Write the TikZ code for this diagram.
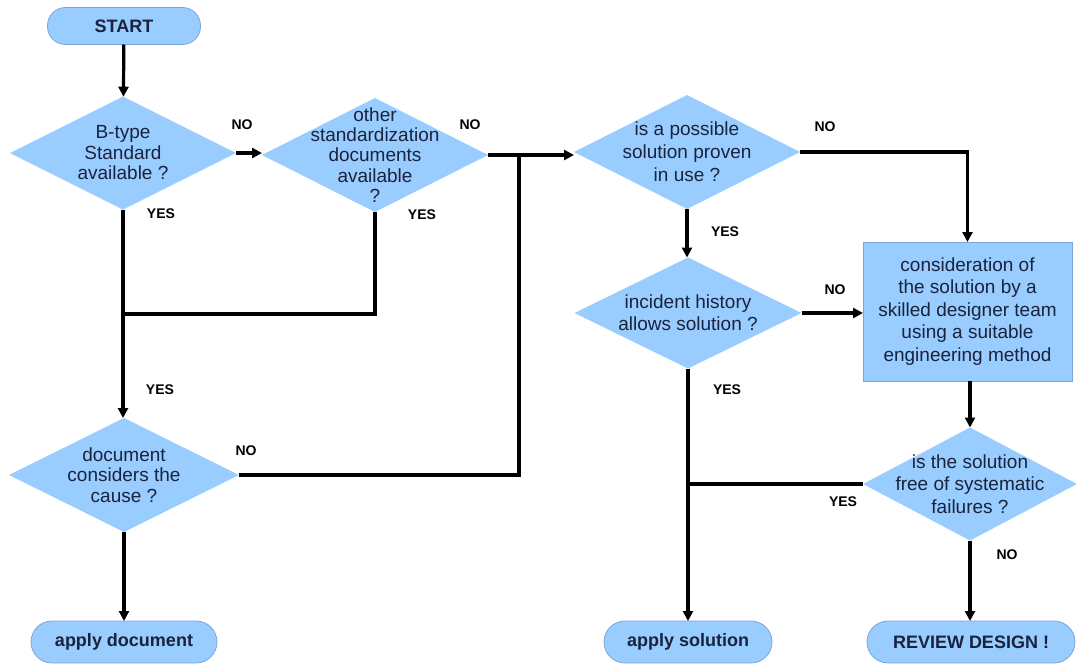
\documentclass[tikz,border=0pt]{standalone}
\usepackage{fontspec}
\setmainfont{Liberation Sans}
\usetikzlibrary{shapes.geometric,arrows.meta}
\definecolor{flowfill}{RGB}{153,204,255}
\definecolor{flowedge}{RGB}{125,165,215}
\definecolor{flowtext}{RGB}{25,35,60}
\tikzset{
  dia/.style={diamond, fill=flowfill, draw=none, inner sep=0pt, outer sep=0pt},
  dtext/.style={align=center, text=flowtext, font=\fontsize{19}{22}\selectfont, inner sep=0pt},
  dtextnarrow/.style={dtext, font=\fontsize{19}{20.5}\selectfont},
  term/.style={rectangle, fill=flowfill, draw=flowedge, line width=0.8pt,
    text=flowtext, font=\bfseries\fontsize{18}{21}\selectfont, inner sep=0pt, outer sep=0pt},
  procbox/.style={rectangle, fill=flowfill, draw=flowedge, line width=0.6pt,
    minimum width=209pt, minimum height=139pt, inner sep=0pt, outer sep=0pt,
    align=center, text=flowtext, font=\fontsize{19}{22.5}\selectfont},
  answer/.style={font=\bfseries\fontsize{14}{16}\selectfont, text=black, inner sep=0pt},
  link/.style={line width=3.2pt, draw=black},
  flow/.style={link, -{Triangle[length=10pt,width=10pt]}},
}
\begin{document}
\begin{tikzpicture}[x=1pt, y=-1pt]
\useasboundingbox (0,0) rectangle (1076,664);

% terminals
\node[term, minimum width=153pt, minimum height=37pt, rounded corners=18pt] (start) at (124,26) {START};
\node[term, minimum width=186pt, minimum height=42pt, rounded corners=21pt] (applydoc) at (124,642) {apply document};
\node[term, minimum width=168pt, minimum height=42pt, rounded corners=21pt] (applysol) at (688,642) {apply solution};
\node[term, minimum width=208pt, minimum height=42pt, rounded corners=21pt] (review) at (971,642) {REVIEW DESIGN !};

% decisions
\node[dia, minimum width=226pt, minimum height=113pt,
  label={[name=d1t, dtextnarrow]center:{B-type\\Standard\\available ?}}] (d1) at (123,153) {};
\node[dia, minimum width=226pt, minimum height=114pt,
  label={[name=d2t, dtext, font=\fontsize{19}{20.3}\selectfont]center:{other\\standardization\\documents\\available\\?}}] (d2) at (375,155) {};
\node[dia, minimum width=226pt, minimum height=114pt,
  label={[name=d3t, dtext, font=\fontsize{19}{23}\selectfont]center:{is a possible\\solution proven\\in use ?}}] (d3) at (687,152) {};
\node[dia, minimum width=230pt, minimum height=114pt,
  label={[name=d4t, dtextnarrow]center:{document\\considers the\\cause ?}}] (d4) at (124,475) {};
\node[dia, minimum width=227pt, minimum height=111pt,
  label={[name=d5t, dtext]center:{incident history\\allows solution ?}}] (d5) at (688,313) {};
\node[dia, minimum width=214pt, minimum height=113pt,
  label={[name=d6t, dtext, font=\fontsize{19}{22.5}\selectfont]center:{is the solution\\free of systematic\\failures ?}}] (d6) at (970,484) {};

% process
\node[procbox] (team) at (967.5,311.5) {consideration of\\the solution by a\\skilled designer team\\using a suitable\\engineering method};

% junction points
\coordinate (j1) at (519,153);
\coordinate (j2) at (123,314);

% connectors
\draw[flow] (start) -- (d1);
\draw[flow] (d1.east) -- (d1.east -| d2.west);
\draw[flow] (d2.east) -- (d2.east -| d3.west);
\draw[link] (d4.east) -| (j1);
\draw[link] (d2.south) |- (j2);
\draw[flow] (d1.south) -- (d1.south |- d4.north);
\draw[flow] (d4.south) -- (d4.south |- applydoc.north);
\draw[flow] (d3.east) -| (team.north);
\draw[flow] (d3.south) -- (d3.south |- d5.north);
\draw[flow] (d5.east) -- (d5.east -| team.west);
\draw[flow] (team.south -| d6.north) -- (d6.north);
\draw[flow] (d5.south) -- (d5.south |- applysol.north);
\draw[link] (d6.west) -- (d6.west -| d5.south);
\draw[flow] (d6.south) -- (d6.south |- review.north);

% branch answers
\node[answer] (no1) at (242,125) {NO};
\node[answer] (no2) at (470,125) {NO};
\node[answer] (yes1) at (161,214) {YES};
\node[answer] (yes2) at (422,215) {YES};
\node[answer] (yes3) at (160,390) {YES};
\node[answer] (no3) at (246,451) {NO};
\node[answer] (no4) at (825,127) {NO};
\node[answer] (yes4) at (725,232) {YES};
\node[answer] (no5) at (835,290) {NO};
\node[answer] (yes5) at (727,390) {YES};
\node[answer] (yes6) at (843,502) {YES};
\node[answer] (no6) at (1007,555) {NO};
\end{tikzpicture}
\end{document}
